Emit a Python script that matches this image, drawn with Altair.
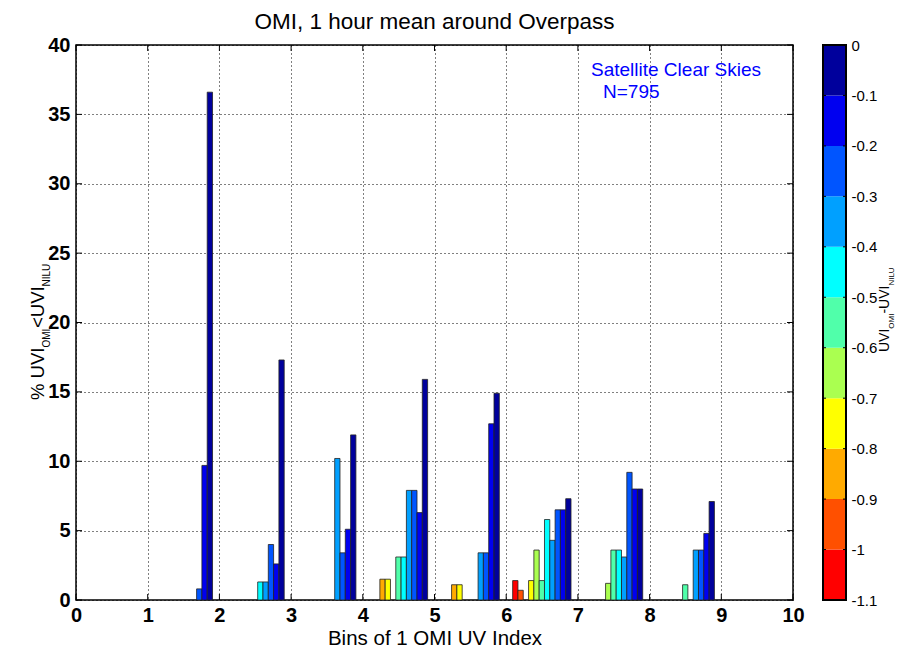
import altair as alt
import pandas as pd

# ---------------- data ----------------
bar_bin = [1, 1, 1,
           2, 2, 2, 2, 2,
           3, 3, 3, 3,
           4, 4, 4, 4, 4, 4, 4, 4,
           5, 5, 5, 5, 5, 5,
           6, 6, 6, 6, 6, 6, 6, 6, 6, 6,
           7, 7, 7, 7, 7, 7, 7,
           8, 8, 8, 8, 8]
bar_class = [8, 9, 10,
             6, 7, 8, 9, 10,
             7, 8, 9, 10,
             2, 3, 5, 6, 7, 8, 9, 10,
             2, 3, 7, 8, 9, 10,
             0, 1, 3, 4, 5, 6, 7, 8, 9, 10,
             4, 5, 6, 7, 8, 9, 10,
             5, 7, 8, 9, 10]
bar_value = [0.8, 9.7, 36.6,
             1.3, 1.3, 4.0, 2.6, 17.3,
             10.2, 3.4, 5.1, 11.9,
             1.5, 1.5, 3.1, 3.1, 7.9, 7.9, 6.3, 15.9,
             1.1, 1.1, 3.4, 3.4, 12.7, 14.9,
             1.4, 0.7, 1.4, 3.6, 1.4, 5.8, 4.3, 6.5, 6.5, 7.3,
             1.2, 3.6, 3.6, 3.1, 9.2, 8.0, 8.0,
             1.1, 3.6, 3.6, 4.8, 7.1]

class_colors = ["#FF0000", "#FF5000", "#FFAA00", "#FFFF00", "#AAFF50",
                "#50FFAA", "#00FFFF", "#00A0FF", "#0055FF", "#0000F0", "#00009C"]
cb_bounds = [-1.1, -1.0, -0.9, -0.8, -0.7, -0.6, -0.5, -0.4, -0.3, -0.2, -0.1, 0.0]
cb_labels = [0, -0.1, -0.2, -0.3, -0.4, -0.5, -0.6, -0.7, -0.8, -0.9, -1, -1.1]

x_ticks = [0, 1, 2, 3, 4, 5, 6, 7, 8, 9, 10]
y_ticks = [0, 5, 10, 15, 20, 25, 30, 35, 40]

title_text = "OMI, 1 hour mean around Overpass"
x_title = "Bins of 1 OMI UV Index"
y_title_parts = ["% UVI", "OMI", "<UVI", "NILU"]
cb_title_parts = ["UVI", "OMI", "-UVI", "NILU"]
note_line1 = "Satellite Clear Skies"
note_line2 = "N=795"

FONT = "Liberation Sans"
W, H = 717, 555

bars_df = pd.DataFrame({"bin": bar_bin, "cls": bar_class, "val": bar_value})
cb_df = pd.DataFrame({"cls": list(range(11)),
                      "lo": cb_bounds[:-1], "hi": cb_bounds[1:]})
xt_df = pd.DataFrame({"t": x_ticks})
yt_df = pd.DataFrame({"t": y_ticks})
cbt_df = pd.DataFrame({"v": cb_labels})
one = pd.DataFrame({"a": [0]})

xscale = alt.Scale(domain=[0, 10], nice=False, zero=False)
yscale = alt.Scale(domain=[0, 40], nice=False, zero=False)
cbscale = alt.Scale(domain=[-1.1, 0], nice=False, zero=False)
cscale = alt.Scale(domain=list(range(11)), range=class_colors)

grid_kw = dict(grid=True, gridDash=[1, 3], gridColor="black", gridOpacity=1,
               gridWidth=1, ticks=False, tickSize=0, domain=False,
               labelFontSize=20, labelFontWeight="bold", labelFont=FONT,
               labelColor="black", labelFlush=False, labelOverlap=False)

x_axis = alt.Axis(values=x_ticks, labelPadding=21, labelBaseline="alphabetic",
                  title=x_title, titleFontSize=20.5, titleFontWeight="normal",
                  titleFont=FONT, titleColor="black", titleY=44,
                  titleBaseline="alphabetic", orient="bottom", **grid_kw)
y_axis = alt.Axis(values=y_ticks, labelPadding=6, title=None, orient="left",
                  **grid_kw)

bars = alt.Chart(bars_df).transform_calculate(
    x0="datum.bin + 0.09 + datum.cls * 0.074",
    x1="datum.bin + 0.164 + datum.cls * 0.074",
).mark_rect(stroke="#222222", strokeWidth=0.8).encode(
    x=alt.X("x0:Q", scale=xscale, axis=x_axis),
    x2="x1:Q",
    y=alt.Y("val:Q", scale=yscale, axis=y_axis),
    y2=alt.datum(0),
    color=alt.Color("cls:O", scale=cscale, legend=None),
)

tick_kw = dict(color="black", strokeWidth=1)
xt_bottom = alt.Chart(xt_df).mark_rule(**tick_kw).encode(
    x=alt.X("t:Q", scale=xscale, axis=x_axis), y=alt.value(H), y2=alt.value(H - 6))
xt_top = alt.Chart(xt_df).mark_rule(**tick_kw).encode(
    x=alt.X("t:Q", scale=xscale, axis=x_axis), y=alt.value(0), y2=alt.value(6))
yt_left = alt.Chart(yt_df).mark_rule(**tick_kw).encode(
    y=alt.Y("t:Q", scale=yscale, axis=y_axis), x=alt.value(0), x2=alt.value(6))
yt_right = alt.Chart(yt_df).mark_rule(**tick_kw).encode(
    y=alt.Y("t:Q", scale=yscale, axis=y_axis), x=alt.value(W - 6), x2=alt.value(W))


def txt(s, x, y, size, **kw):
    color = kw.pop("color", "black")
    return alt.Chart(one).mark_text(font=FONT, fontSize=size, color=color, **kw).encode(
        x=alt.value(x), y=alt.value(y), text=alt.value(s))


title = txt(title_text, W / 2, -16, 22.5, align="center", baseline="alphabetic")
note1 = txt(note_line1, 515, 31, 19, align="left", baseline="alphabetic", color="#0000FF")
note2 = txt(note_line2, 527, 53, 19, align="left", baseline="alphabetic", color="#0000FF")

# y title with subscripts (rotated)
ylab = [
    txt(y_title_parts[0], -32, 355, 18.5, angle=270, align="left", baseline="alphabetic"),
    txt(y_title_parts[1], -26, 302.5, 10, angle=270, align="left", baseline="alphabetic"),
    txt(y_title_parts[2], -32, 283, 18.5, angle=270, align="left", baseline="alphabetic"),
    txt(y_title_parts[3], -26, 241.5, 10, angle=270, align="left", baseline="alphabetic"),
]

main = alt.layer(bars, xt_bottom, xt_top, yt_left, yt_right, title, note1, note2, *ylab)

# ---------------- colour bar ----------------
CB0, CB1 = 747, 770
cb_axis = alt.Axis(orient="right", offset=CB1 - W, values=cb_labels,
                   labelExpr="'' + datum.value", ticks=False, tickSize=0,
                   domain=False, grid=False, labelFontSize=15, labelPadding=5,
                   labelFont=FONT, labelColor="black", title=None,
                   labelFlush=False, labelOverlap=False)
cb_rects = alt.Chart(cb_df).mark_rect().encode(
    x=alt.value(CB0), x2=alt.value(CB1),
    y=alt.Y("lo:Q", scale=cbscale, axis=cb_axis), y2="hi:Q",
    color=alt.Color("cls:O", scale=cscale, legend=None),
)
cb_tl = alt.Chart(cbt_df).mark_rule(color="black", strokeWidth=1).encode(
    y=alt.Y("v:Q", scale=cbscale, axis=cb_axis), x=alt.value(CB0), x2=alt.value(CB0 + 3))
cb_tr = alt.Chart(cbt_df).mark_rule(color="black", strokeWidth=1).encode(
    y=alt.Y("v:Q", scale=cbscale, axis=cb_axis), x=alt.value(CB1 - 3), x2=alt.value(CB1))
cb_border = alt.Chart(one).mark_rect(fillOpacity=0, stroke="black", strokeWidth=2).encode(
    x=alt.value(CB0), x2=alt.value(CB1), y=alt.value(0), y2=alt.value(H))
cblab = [
    txt(cb_title_parts[0], 813, 307, 14, angle=270, align="left", baseline="alphabetic"),
    txt(cb_title_parts[1], 818, 283.7, 8, angle=270, align="left", baseline="alphabetic"),
    txt(cb_title_parts[2], 813, 268.6, 14, angle=270, align="left", baseline="alphabetic"),
    txt(cb_title_parts[3], 818, 240.6, 8, angle=270, align="left", baseline="alphabetic"),
]
cb = alt.layer(cb_rects, cb_tl, cb_tr, cb_border, *cblab)

chart = alt.layer(main, cb).resolve_scale(y="independent").properties(
    width=W, height=H,
    autosize=alt.AutoSizeParams(type="none"),
    padding={"left": 68, "top": 37, "right": 106, "bottom": 48},
).configure(background="white").configure_view(stroke="black", strokeWidth=1.5)

chart.save("out.html", embed_options={"renderer": "svg", "actions": False})
